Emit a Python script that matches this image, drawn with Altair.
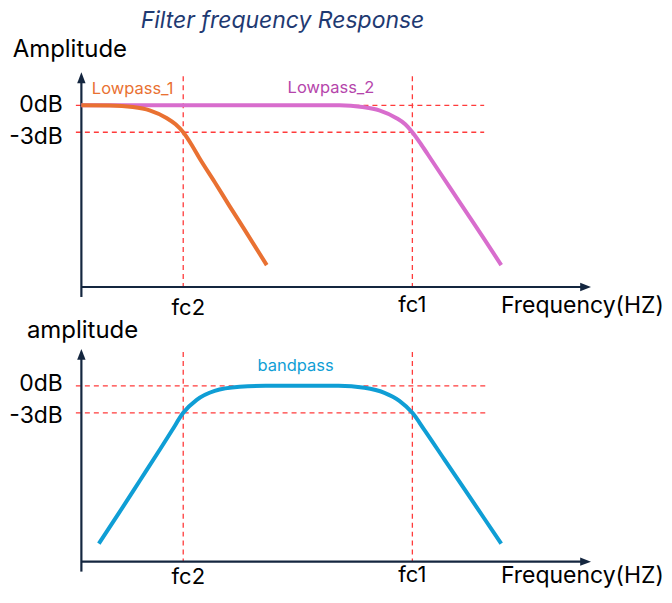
import altair as alt
import pandas as pd

# ---------------- data (frequency in arbitrary units, amplitude in dB) ----------------
FC2 = 20.0
FC1 = 65.0
REF_LEVELS = [0, -3]
REF_LABELS = ["0dB", "-3dB"]

lp1_freq = [0, 5.6, 10.1, 13.4, 16.8, 18.5, 20.0, 21.7, 23.2, 26.2, 29.1, 32.1, 36.4]
lp1_amp = [0, -0.02, -0.19, -0.56, -1.44, -2.11, -3.0, -4.44, -5.89, -8.56, -11.22, -13.89, -17.78]

lp2_freq = [0, 50.7, 55.2, 58.5, 61.9, 63.6, 65.0, 66.76, 68.73, 72.25, 76.18, 79.12, 82.45]
lp2_amp = [0, 0, -0.19, -0.56, -1.44, -2.11, -3.0, -4.39, -6.06, -9.06, -12.39, -14.89, -17.78]

bp_freq = [3.43, 7.55, 11.47, 15.39, 17.75, 20.0, 22.65, 26.18, 31.08, 36.18, 50.49,
           55.59, 59.51, 62.45, 65.0, 67.35, 71.27, 75.2, 79.12, 82.45]
bp_amp = [-17.56, -14.0, -10.56, -7.11, -5.0, -3.0, -1.56, -0.56, -0.11, 0, 0,
          -0.22, -0.78, -1.67, -3.0, -4.89, -8.18, -11.47, -14.76, -17.56]

TITLE = "Filter frequency Response"
XLABEL = "Frequency(HZ)"

# ---------------- style ----------------
FONT = "Inter"
NAVY = "#14263F"
RED = "#FF3B3B"
ORANGE = "#E97132"
PINK = "#D86DCD"
PINK_TXT = "#B545AB"
BLUE = "#0F9ED5"
TITLE_COL = "#1F3A72"

XMIN, XMAX = -14.41, 114.22
W = 656

XS = alt.Scale(domain=[XMIN, XMAX], nice=False, zero=False)


def xenc(field="f"):
    return alt.X(f"{field}:Q", scale=XS, axis=None)


def yenc(ys, field="db"):
    return alt.Y(f"{field}:Q", scale=ys, axis=None)


def curve(freq, amp, color, ys):
    df = pd.DataFrame({"f": freq, "db": amp, "i": range(len(freq))})
    return alt.Chart(df).mark_line(color=color, strokeWidth=4, strokeCap="butt",
                                   interpolate="monotone").encode(
        x=xenc(), y=yenc(ys), order="i:Q")


def texts(rows, ys, **kw):
    df = pd.DataFrame(rows, columns=["f", "db", "t"])
    return alt.Chart(df).mark_text(font=FONT, baseline="alphabetic", **kw).encode(
        x=xenc(), y=yenc(ys), text="t:N")


def panel(ydom, height, yax_bottom, yax_top, xax_y, vtop, href_end, ref_base,
          curves, extra_text, ylabel, ylabel_f, ylabel_db, fc_base):
    ys = alt.Scale(domain=ydom, nice=False, zero=False)
    layers = []
    hdf = pd.DataFrame({"f": [-1.08] * 2, "f2": [href_end] * 2, "db": REF_LEVELS})
    layers.append(alt.Chart(hdf).mark_rule(color=RED, strokeWidth=1.3, strokeDash=[5, 4]).encode(
        x=xenc(), x2="f2:Q", y=yenc(ys)))
    vdf = pd.DataFrame({"f": [FC2, FC1], "db": [vtop] * 2, "db2": [xax_y] * 2})
    layers.append(alt.Chart(vdf).mark_rule(color=RED, strokeWidth=1.3, strokeDash=[5, 4]).encode(
        x=xenc(), y=yenc(ys), y2="db2:Q"))
    ydf = pd.DataFrame({"f": [0.0], "db": [yax_bottom], "db2": [yax_top]})
    layers.append(alt.Chart(ydf).mark_rule(color=NAVY, strokeWidth=2.2).encode(
        x=xenc(), y=yenc(ys), y2="db2:Q"))
    xdf = pd.DataFrame({"f": [0.0], "f2": [98.9], "db": [xax_y]})
    layers.append(alt.Chart(xdf).mark_rule(color=NAVY, strokeWidth=2.2).encode(
        x=xenc(), x2="f2:Q", y=yenc(ys)))
    up = pd.DataFrame({"f": [0.0], "db": [yax_top]})
    layers.append(alt.Chart(up).mark_point(shape="M0,-1L0.7,0.8L-0.7,0.8Z", filled=True,
                                           size=144, color=NAVY, opacity=1, strokeWidth=0).encode(
        x=xenc(), y=yenc(ys)))
    rt = pd.DataFrame({"f": [98.9], "db": [xax_y]})
    layers.append(alt.Chart(rt).mark_point(shape="M1,0L-0.8,-0.7L-0.8,0.7Z", filled=True,
                                           size=144, color=NAVY, opacity=1, strokeWidth=0).encode(
        x=xenc(), y=yenc(ys)))
    for c in curves:
        layers.append(curve(c[0], c[1], c[2], ys))
    layers.append(texts([[-3.63, REF_LEVELS[0] + ref_base[0], REF_LABELS[0]],
                         [-3.63, REF_LEVELS[1] + ref_base[1], REF_LABELS[1]]],
                        ys, align="right", fontSize=23, color="black"))
    layers.append(texts([[ylabel_f, ylabel_db, ylabel]], ys, align="left", fontSize=24, color="black"))
    layers.append(texts([[FC2 + 1.0, fc_base[0], "fc2"], [FC1, fc_base[1], "fc1"]],
                        ys, align="center", fontSize=22, color="black"))
    layers.append(texts([[82.4, fc_base[2], XLABEL]], ys, align="left", fontSize=23, color="black"))
    layers.extend(t(ys) for t in extra_text)
    return alt.layer(*layers).properties(width=W, height=height)


top = panel(
    ydom=[-23.667, 10.778], height=310,
    yax_bottom=-21.33, yax_top=3.0, xax_y=-20.22, vtop=3.22, href_end=79.1,
    ref_base=[-0.74, -1.26],
    curves=[(lp2_freq, lp2_amp, PINK), (lp1_freq, lp1_amp, ORANGE)],
    extra_text=[
        lambda ys: texts([[39.5, 8.55, TITLE]], ys, align="center", fontSize=23,
                         fontStyle="italic", color=TITLE_COL),
        lambda ys: texts([[2.06, 1.3, "Lowpass_1"]], ys, align="left", fontSize=16.5, color=ORANGE),
        lambda ys: texts([[40.5, 1.33, "Lowpass_2"]], ys, align="left", fontSize=16.5, color=PINK_TXT),
    ],
    ylabel="Amplitude", ylabel_f=-13.5, ylabel_db=5.37,
    fc_base=[-23.33, -23.0, -23.11],
)

bottom = panel(
    ydom=[-22.556, 7.556], height=271,
    yax_bottom=-20.67, yax_top=3.44, xax_y=-19.56, vtop=3.78, href_end=80.1,
    ref_base=[-0.52, -1.14],
    curves=[(bp_freq, bp_amp, BLUE)],
    extra_text=[
        lambda ys: texts([[42.06, 1.67, "bandpass"]], ys, align="center", fontSize=16.5, color=BLUE),
    ],
    ylabel="amplitude", ylabel_f=-10.7, ylabel_db=5.33,
    fc_base=[-22.0, -21.78, -21.89],
)

chart = alt.vconcat(top, bottom, spacing=0, bounds="flush").properties(
    padding=0
).configure_view(stroke=None)

chart.save("out.html", embed_options={"renderer": "svg", "actions": False})
